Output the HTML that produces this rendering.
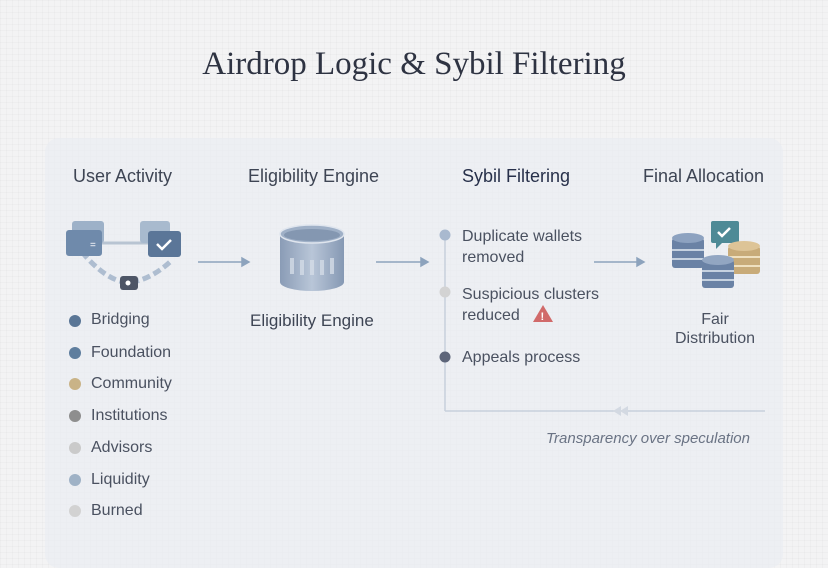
<!DOCTYPE html>
<html><head><style>
body{margin:0;width:828px;height:552px;overflow:hidden;background:#f3f3f4;font-family:"Liberation Sans",sans-serif;position:relative;
background-image:linear-gradient(rgba(0,0,0,0.02) 1px,transparent 1px),linear-gradient(90deg,rgba(0,0,0,0.02) 1px,transparent 1px);background-size:6px 6px}
.t{position:absolute;white-space:nowrap;color:#3e4554}
.panel{position:absolute;left:45px;top:138px;width:738px;height:430px;background:rgba(234,237,242,0.7);border-radius:14px}
.h{font-size:18px;top:166px}
.lg{font-size:16px;color:#4a5160}
.dot{position:absolute;width:12px;height:12px;border-radius:50%}
</style></head><body>
<div class="panel"></div>
<div class="t" style="left:0;width:828px;text-align:center;top:46px;font-family:'Liberation Serif',serif;font-size:33px;color:#2e3342">Airdrop Logic &amp; Sybil Filtering</div>
<div class="t h" style="left:73px">User Activity</div>
<div class="t h" style="left:248px">Eligibility Engine</div>
<div class="t h" style="left:462px;color:#27304a">Sybil Filtering</div>
<div class="t h" style="left:643px">Final Allocation</div>
<svg width="828" height="552" style="position:absolute;left:0;top:0">
<defs><linearGradient id="cy" x1="0" x2="1"><stop offset="0" stop-color="#8a9cb6"/><stop offset=".5" stop-color="#b9c6d8"/><stop offset="1" stop-color="#8598b3"/></linearGradient></defs>
<path d="M82 252 Q105 280 128 283 Q150 280 170 262" stroke="#aebdd0" stroke-width="5" fill="none" stroke-dasharray="8 4"/>
<line x1="100" y1="243" x2="148" y2="243" stroke="#b8c4d2" stroke-width="3"/>
<rect x="72" y="221" width="32" height="22" rx="3" fill="#9db1c8"/>
<rect x="66" y="230" width="36" height="26" rx="3" fill="#6f8aab"/>
<text x="90" y="248" font-size="10" fill="#fff" font-family="Liberation Sans">=</text>
<rect x="140" y="221" width="30" height="22" rx="3" fill="#a8bace"/>
<rect x="148" y="231" width="33" height="26" rx="3" fill="#5b7698"/>
<path d="M157 244 l5 5 l9 -9" stroke="#fff" stroke-width="2.5" fill="none"/>
<rect x="120" y="276" width="18" height="14" rx="3" fill="#4d5566"/>
<circle cx="128" cy="283" r="2.5" fill="#fff"/>
<g stroke="#8da3bd" stroke-width="1.5" fill="#8da3bd">
<line x1="198" y1="262" x2="243" y2="262"/><path d="M249 262 l-7 -4 v8z"/>
<line x1="376" y1="262" x2="422" y2="262"/><path d="M428 262 l-7 -4 v8z"/>
<line x1="594" y1="262" x2="638" y2="262"/><path d="M644 262 l-7 -4 v8z"/>
</g>
<path d="M280 234 v48 a32 9 0 0 0 64 0 v-48z" fill="url(#cy)"/>
<ellipse cx="312" cy="234" rx="32" ry="9" fill="#9fb0c7" stroke="#dfe5ee" stroke-width="1.5"/>
<ellipse cx="312" cy="235" rx="28" ry="6" fill="#8497b1"/>
<g fill="#d4dce7" opacity=".8"><rect x="290" y="258" width="4" height="16"/><rect x="300" y="260" width="4" height="15"/><rect x="310" y="260" width="4" height="15"/><rect x="320" y="260" width="4" height="15"/><rect x="330" y="258" width="4" height="16"/></g>
<line x1="445" y1="240" x2="445" y2="411" stroke="#c8d0dc" stroke-width="1.5"/>
<line x1="445" y1="411" x2="765" y2="411" stroke="#c8d0dc" stroke-width="1.5"/>
<path d="M613 411 l8 -5 v10z M620 411 l8 -5 v10z" fill="#d3d9e2"/>
<circle cx="445" cy="235" r="5.5" fill="#a9b9cf"/>
<circle cx="445" cy="292" r="5.5" fill="#d3d3d3"/>
<circle cx="445" cy="357" r="5.5" fill="#5d6579"/>
<path d="M543 305 l10 17 h-20z" fill="#d16a6a"/>
<text x="540.5" y="320" font-size="11" font-weight="bold" fill="#fff" font-family="Liberation Sans">!</text>
<g>
<rect x="711" y="221" width="28" height="22" rx="2" fill="#4e8a96"/><path d="M716 243 v6 l6 -6z" fill="#4e8a96"/>
<path d="M718 232 l4 4 l8 -8" stroke="#fff" stroke-width="2.5" fill="none"/>
<rect x="672" y="238" width="32" height="30" rx="3" fill="#6a82a5"/><ellipse cx="688" cy="238" rx="16" ry="5" fill="#8da2c0"/><line x1="672" y1="250" x2="704" y2="250" stroke="#c6d2e0" stroke-width="2"/><line x1="672" y1="259" x2="704" y2="259" stroke="#c6d2e0" stroke-width="2"/>
<rect x="728" y="246" width="32" height="28" rx="3" fill="#c8ab79"/><ellipse cx="744" cy="246" rx="16" ry="5" fill="#ddc497"/><line x1="728" y1="257" x2="760" y2="257" stroke="#efe0c0" stroke-width="2"/><line x1="728" y1="266" x2="760" y2="266" stroke="#efe0c0" stroke-width="2"/>
<rect x="702" y="260" width="32" height="28" rx="3" fill="#6a82a5"/><ellipse cx="718" cy="260" rx="16" ry="5" fill="#92a6c2"/><line x1="702" y1="271" x2="734" y2="271" stroke="#c6d2e0" stroke-width="2"/><line x1="702" y1="280" x2="734" y2="280" stroke="#c6d2e0" stroke-width="2"/>
</g>
</svg>
<div class="t" style="left:250px;top:311px;font-size:17px">Eligibility Engine</div>
<div class="t lg" style="left:462px;top:226px;line-height:21px">Duplicate wallets<br>removed</div>
<div class="t lg" style="left:462px;top:284px;line-height:21px">Suspicious clusters<br>reduced</div>
<div class="t lg" style="left:462px;top:349px">Appeals process</div>
<div class="t" style="left:660px;width:110px;text-align:center;top:310px;font-size:16px;line-height:19px;color:#4a5160">Fair<br>Distribution</div>
<div class="t" style="left:546px;top:430px;font-size:15px;font-style:italic;color:#6a7384">Transparency over speculation</div>
<div class="dot" style="left:69px;top:315px;background:#5a7696"></div><div class="t lg" style="left:91px;top:311px">Bridging</div>
<div class="dot" style="left:69px;top:347px;background:#5f7e9e"></div><div class="t lg" style="left:91px;top:344px">Foundation</div>
<div class="dot" style="left:69px;top:378px;background:#c9b387"></div><div class="t lg" style="left:91px;top:375px">Community</div>
<div class="dot" style="left:69px;top:410px;background:#8e8e8e"></div><div class="t lg" style="left:91px;top:407px">Institutions</div>
<div class="dot" style="left:69px;top:442px;background:#cacaca"></div><div class="t lg" style="left:91px;top:439px">Advisors</div>
<div class="dot" style="left:69px;top:474px;background:#9fb2c6"></div><div class="t lg" style="left:91px;top:471px">Liquidity</div>
<div class="dot" style="left:69px;top:505px;background:#d2d2d2"></div><div class="t lg" style="left:91px;top:502px">Burned</div>
</body></html>
